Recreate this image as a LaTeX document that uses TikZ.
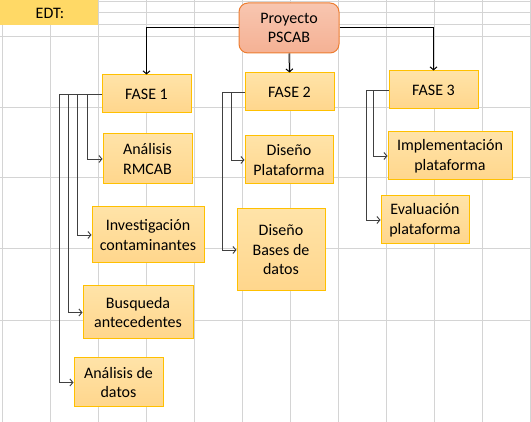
\documentclass[tikz,border=0pt]{standalone}
\usepackage{fontspec}
\setmainfont{Carlito}
\usetikzlibrary{arrows.meta}
\definecolor{gridgray}{HTML}{D4D4D4}
\definecolor{cellgold}{HTML}{FFD966}
\definecolor{boxtop}{HTML}{FFE3A8}
\definecolor{boxbot}{HTML}{FFD68C}
\definecolor{boxline}{HTML}{FFC000}
\definecolor{projtop}{HTML}{F8C6B0}
\definecolor{projbot}{HTML}{F5B194}
\definecolor{projline}{HTML}{ED7D31}
\tikzset{
  tarea/.style={draw=boxline, line width=1pt, top color=boxtop, bottom color=boxbot,
    align=center, inner sep=2pt, font=\fontsize{16}{19.5}\selectfont},
  proyecto/.style={draw=projline, line width=1pt, top color=projtop, bottom color=projbot,
    rounded corners=9pt, align=center, inner sep=2pt, font=\fontsize{16}{19.5}\selectfont},
  rama/.style={->, draw=black!75, line width=0.9pt},
  tronco/.style={->, draw=black, line width=1pt}
}
\begin{document}
\begin{tikzpicture}[>={Straight Barb[length=3pt,width=7pt]}, x=1pt, y=-1pt]
    \useasboundingbox (0,0) rectangle (531,422);
    \fill[white] (0,0) rectangle (531,422);

\foreach \x in {2,50,98,146,194,242,290,338,386,434,482,530}
{
    \draw[gridgray, line width=1pt](\x,0)--(\x,422);
}
\foreach \y in {2,13,25,37,108,178,249,321}
{
    \draw[gridgray, line width=1pt](0,\y)--(531,\y);
}
    \fill[cellgold](0,0) rectangle (98,25);
    \node (edt) at (50,13.5)[font=\fontsize{16}{19.5}\selectfont]{EDT:};

    \node (proj) at (289,28)[proyecto, minimum width=100pt, minimum height=50pt]{Proyecto\\PSCAB};

    \node (f1) at (146.5,94)[tarea, minimum width=89pt, minimum height=38pt]{FASE 1};
    \node (f2) at (289.5,92)[tarea, minimum width=89pt, minimum height=38pt]{FASE 2};
    \node (f3) at (433.5,90)[tarea, minimum width=89pt, minimum height=38pt]{FASE 3};

    \node (rmcab) at (147.5,159)[tarea, minimum width=89pt, minimum height=50pt]{Análisis\\RMCAB};
    \node (invest) at (148,235)[tarea, minimum width=112pt, minimum height=56pt]{Investigación\\contaminantes};
    \node (busq) at (138,312.5)[tarea, minimum width=110pt, minimum height=53pt]{Busqueda\\antecedentes};
    \node (datos) at (118.5,382.5)[tarea, minimum width=89pt, minimum height=49pt]{Análisis de\\datos};

    \node (dplat) at (289,160)[tarea, minimum width=88pt, minimum height=48pt]{Diseño\\Plataforma};
    \node (dbases) at (281,250)[tarea, minimum width=88pt, minimum height=82pt]{Diseño\\Bases de\\datos};

    \node (impl) at (450,156)[tarea, minimum width=124pt, minimum height=48pt]{Implementación\\plataforma};
    \node (eval) at (425,220)[tarea, minimum width=88pt, minimum height=48pt]{Evaluación\\plataforma};

    \draw[tronco](proj.west) -| (f1.north);
    \draw[tronco](proj.south) -- (f2.north);
    \draw[tronco](proj.east) -| (f3.north);

    \draw[rama](f1.west) -- ++(-14.5,0) |- (rmcab.west);
    \draw[rama](f1.west) -- ++(-24,0) |- (invest.west);
    \draw[rama](f1.west) -- ++(-33,0) |- (busq.west);
    \draw[rama](f1.west) -- ++(-42,0) |- (datos.west);

    \draw[rama](f2.west) -- ++(-13,0) |- (dplat.west);
    \draw[rama](f2.west) -- ++(-22,0) |- (dbases.west);

    \draw[rama](f3.west) -- ++(-15,0) |- (impl.west);
    \draw[rama](f3.west) -- ++(-22,0) |- (eval.west);

\end{tikzpicture}
\end{document}
